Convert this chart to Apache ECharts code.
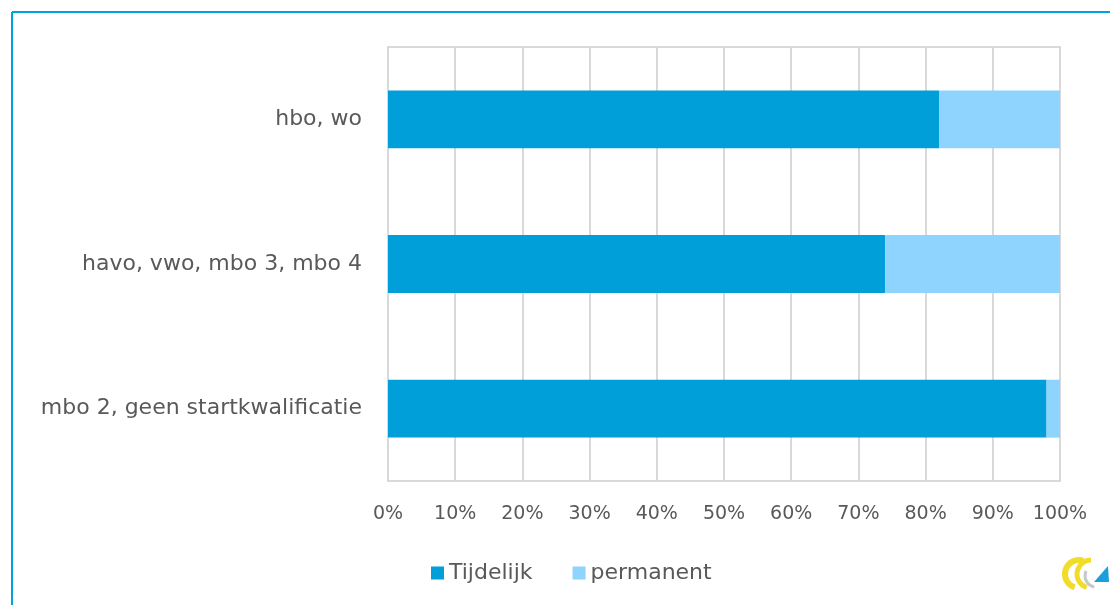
<!DOCTYPE html>
<html>
<head>
<meta charset="utf-8">
<script src="https://cdn.jsdelivr.net/npm/echarts@6/dist/echarts.min.js"></script>
<style>
html,body{margin:0;padding:0;background:#fff;}
#chart{width:1110px;height:605px;}
</style>
</head>
<body>
<div id="chart"></div>
<script>
var categories = ['mbo 2, geen startkwalificatie', 'havo, vwo, mbo 3, mbo 4', 'hbo, wo'];
var tijdelijk = [98, 74, 82];
var permanent = [2, 26, 18];
var seriesNames = ['Tijdelijk', 'permanent'];
var FONT = "'DejaVu Sans', Verdana, sans-serif";
var TXT = '#595959';

var chart = echarts.init(document.getElementById('chart'));
chart.setOption({
  backgroundColor: '#ffffff',
  animation: false,
  grid: {left: 388, right: 50, top: 47, bottom: 124, show: true, borderColor: '#d9d9d9', borderWidth: 2, containLabel: false},
  legend: {
    data: seriesNames,
    left: 426, top: 557,
    itemWidth: 13, itemHeight: 13, itemGap: 40,
    icon: 'rect',
    textStyle: {fontFamily: FONT, fontSize: 22, color: TXT}
  },
  xAxis: {
    type: 'value', min: 0, max: 100, interval: 10,
    axisLabel: {formatter: '{value}%', fontFamily: FONT, fontSize: 19, color: TXT, margin: 24},
    axisLine: {show: true, lineStyle: {color: '#d9d9d9', width: 2}},
    axisTick: {show: false},
    splitLine: {show: true, lineStyle: {color: '#d9d9d9', width: 2}}
  },
  yAxis: {
    type: 'category', data: categories,
    axisLabel: {fontFamily: FONT, fontSize: 22, color: TXT, margin: 26},
    axisLine: {show: true, lineStyle: {color: '#d9d9d9', width: 2}},
    axisTick: {show: false}
  },
  series: [
    {name: seriesNames[0], type: 'bar', stack: 's', data: tijdelijk, barWidth: '40%', itemStyle: {color: '#009fd9'}},
    {name: seriesNames[1], type: 'bar', stack: 's', data: permanent, barWidth: '40%', itemStyle: {color: '#8fd3ff'}}
  ],
  graphic: [
    {type: 'line', shape: {x1: 12, y1: 12, x2: 1110, y2: 12}, style: {stroke: '#00a3e0', lineWidth: 2}},
    {type: 'line', shape: {x1: 12, y1: 12, x2: 12, y2: 605}, style: {stroke: '#00a3e0', lineWidth: 2}},
    {type: 'arc', shape: {cx: 1079, cy: 574, r: 14, startAngle: Math.PI * 0.6, endAngle: Math.PI * 1.6}, style: {stroke: '#f1dc2a', lineWidth: 6, fill: null}},
    {type: 'arc', shape: {cx: 1091, cy: 574, r: 14, startAngle: Math.PI * 0.6, endAngle: Math.PI * 1.5}, style: {stroke: '#f1dc2a', lineWidth: 5, fill: null}},
    {type: 'arc', shape: {cx: 1096, cy: 576, r: 11, startAngle: Math.PI * 0.55, endAngle: Math.PI * 1.15}, style: {stroke: '#c8c8c8', lineWidth: 3, fill: null}},
    {type: 'polygon', shape: {points: [[1094, 582], [1108, 566], [1109, 582]]}, style: {fill: '#1a9fdb'}}
  ]
});
</script>
</body>
</html>
